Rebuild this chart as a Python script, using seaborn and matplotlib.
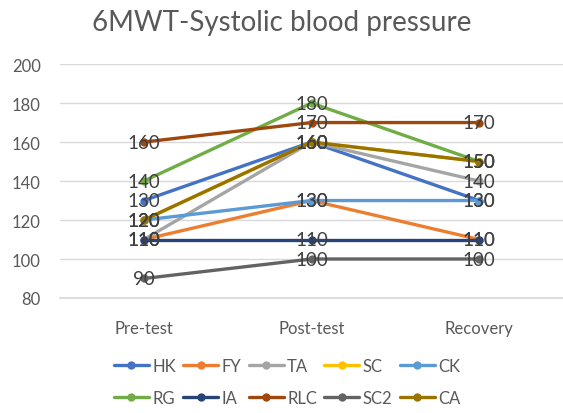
import numpy as np
import pandas as pd
import matplotlib
matplotlib.use("Agg")
import matplotlib.pyplot as plt
import seaborn as sns

# --- data ---
phases = ["Pre-test", "Post-test", "Recovery"]
subjects = ["HK", "FY", "TA", "SC", "CK", "RG", "IA", "RLC", "SC2", "CA"]
hk = [130, 160, 130]
fy = [110, 130, 110]
ta = [110, 160, 140]
sc = [120, 160, 150]
ck = [120, 130, 130]
rg = [140, 180, 150]
ia = [110, 110, 110]
rlc = [160, 170, 170]
sc2 = [90, 100, 100]
ca = [120, 160, 150]
series = [hk, fy, ta, sc, ck, rg, ia, rlc, sc2, ca]
colors = ["#4472C4", "#ED7D31", "#A5A5A5", "#FFC000", "#5B9BD5",
          "#70AD47", "#264478", "#9E480E", "#636363", "#997300"]

rows = []
for name, vals in zip(subjects, series):
    for ph, v in zip(phases, vals):
        rows.append({"phase": ph, "value": v, "subject": name})
df = pd.DataFrame(rows)

sns.set_theme(style="white")
plt.rcParams["font.family"] = ["Lato", "DejaVu Sans"]

fig = plt.figure(figsize=(5.63, 4.14), dpi=100)
ax = fig.add_axes([0.1066, 0.2778, 0.8934, 0.565])

sns.lineplot(data=df, x="phase", y="value", hue="subject", hue_order=subjects,
             palette=colors, marker="o", markersize=6, markeredgewidth=0,
             linewidth=2.4, ax=ax, sort=False, legend=True)

# data labels centred on points
for vals in series:
    for i, v in enumerate(vals):
        ax.text(i, v, str(v), ha="center", va="center", fontsize=13.5,
                color="#404040", zorder=5)

ax.set_ylim(80, 200)
ax.set_yticks(np.arange(80, 201, 20))
ax.set_xlim(-0.5, 2.5)
ax.yaxis.grid(True, color="#D9D9D9", linewidth=1)
ax.xaxis.grid(False)
for s in ax.spines.values():
    s.set_visible(False)
ax.spines["bottom"].set_visible(True)
ax.spines["bottom"].set_color("#D9D9D9")
ax.tick_params(axis="both", length=0, labelsize=12, colors="#595959")
ax.tick_params(axis="x", pad=16)
ax.tick_params(axis="y", pad=14)
ax.set_xlabel("")
ax.set_ylabel("")

fig.suptitle("6MWT-Systolic blood pressure", y=0.975, fontsize=20, color="#595959")

handles, labels = ax.get_legend_handles_labels()
ax.get_legend().remove()
# matplotlib fills legend columns first; reorder so entries read row by row
order = [0, 5, 1, 6, 2, 7, 3, 8, 4, 9]
fig.legend([handles[i] for i in order], [labels[i] for i in order],
           loc="lower center", bbox_to_anchor=(0.51, -0.02),
           ncol=5, frameon=False, fontsize=12, labelcolor="#595959",
           handlelength=2.1, handletextpad=0.2, columnspacing=0.45,
           labelspacing=1.0)

fig.savefig("out.png", dpi=100)
